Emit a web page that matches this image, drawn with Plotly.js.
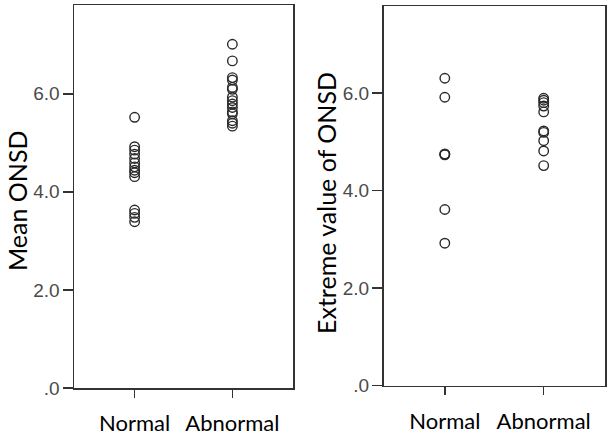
<!DOCTYPE html>
<html>
<head>
<meta charset="utf-8">
<script src="https://cdn.plot.ly/plotly-3.0.1.min.js"></script>
<style>html,body{margin:0;padding:0;background:#fff;}#chart{width:612px;height:440px;}</style>
</head>
<body>
<div id="chart"></div>
<script>
// Categories and tick labels
const groups = ["Normal", "Abnormal"];
const yTickVals = [0, 2, 4, 6];
const yTickText = [".0", "2.0", "4.0", "6.0"];

// Left panel: Mean ONSD
const meanNormal = [5.52, 4.92, 4.85, 4.77, 4.68, 4.59, 4.51, 4.44, 4.39, 4.31, 3.63, 3.56, 3.48, 3.39];
const meanAbnormal = [7.01, 6.67, 6.33, 6.28, 6.13, 6.09, 5.93, 5.86, 5.79, 5.72, 5.63, 5.59, 5.45, 5.40, 5.34];

// Right panel: Extreme value of ONSD
const extNormal = [6.30, 5.91, 4.75, 4.74, 4.73, 3.61, 2.92];
const extAbnormal = [5.89, 5.85, 5.80, 5.73, 5.61, 5.22, 5.19, 5.02, 4.81, 4.51];

const marker = {symbol: "circle-open", size: 9.5, color: "#2a2a2a", line: {width: 1.4, color: "#2a2a2a"}};

function rep(cat, n) { return Array(n).fill(cat); }

const traces = [
  {x: rep(groups[0], meanNormal.length), y: meanNormal, xaxis: "x", yaxis: "y"},
  {x: rep(groups[1], meanAbnormal.length), y: meanAbnormal, xaxis: "x", yaxis: "y"},
  {x: rep(groups[0], extNormal.length), y: extNormal, xaxis: "x2", yaxis: "y2"},
  {x: rep(groups[1], extAbnormal.length), y: extAbnormal, xaxis: "x2", yaxis: "y2"}
].map(t => Object.assign(t, {type: "scatter", mode: "markers", marker: marker, showlegend: false, hoverinfo: "skip"}));

const W = 612, H = 440;
const tickFont = {family: "Liberation Sans, Arial, sans-serif", size: 19, color: "#4a4a4a"};
const catFont = {family: "Lato, Calibri, sans-serif", size: 22, color: "#000"};

function xAxis(domain, anchor) {
  return {
    domain: domain, anchor: anchor, type: "category",
    categoryorder: "array", categoryarray: groups,
    range: [-0.62, 1.62], showgrid: false, zeroline: false,
    showline: true, mirror: true, linecolor: "#333", linewidth: 1.5,
    ticks: "outside", ticklen: 8, tickwidth: 1.5, tickcolor: "#333",
    tickfont: catFont, ticklabelstandoff: 7, fixedrange: true
  };
}
function yAxis(domain, anchor, top) {
  return {
    domain: domain, anchor: anchor, range: [0, top],
    tickvals: yTickVals, ticktext: yTickText,
    showgrid: false, zeroline: false,
    showline: true, mirror: true, linecolor: "#333", linewidth: 1.5,
    ticks: "outside", ticklen: 10, tickwidth: 1.5, tickcolor: "#333",
    tickfont: tickFont, ticklabelstandoff: -1, fixedrange: true
  };
}

const layout = {
  width: W, height: H,
  margin: {l: 0, r: 0, t: 0, b: 0},
  paper_bgcolor: "#fff", plot_bgcolor: "#fff",
  xaxis: xAxis([74 / W, 293 / W], "y"),
  yaxis: yAxis([1 - 388 / H, 1 - 5 / H], "x", 7.81),
  xaxis2: xAxis([383.5 / W, 605 / W], "y2"),
  yaxis2: yAxis([1 - 385.7 / H, 1 - 6 / H], "x2", 7.78),
  annotations: [
    {text: "Mean ONSD", textangle: -90, xref: "paper", yref: "paper",
     x: 17 / W, y: 1 - 201 / H, xanchor: "center", yanchor: "middle", showarrow: false,
     font: {family: "Lato, Calibri, sans-serif", size: 25, color: "#000"}},
    {text: "Extreme value of ONSD", textangle: -90, xref: "paper", yref: "paper",
     x: 326 / W, y: 1 - 203 / H, xanchor: "center", yanchor: "middle", showarrow: false,
     font: {family: "Lato, Calibri, sans-serif", size: 25, color: "#000"}}
  ]
};

Plotly.newPlot("chart", traces, layout, {staticPlot: true, displayModeBar: false});
</script>
</body>
</html>
